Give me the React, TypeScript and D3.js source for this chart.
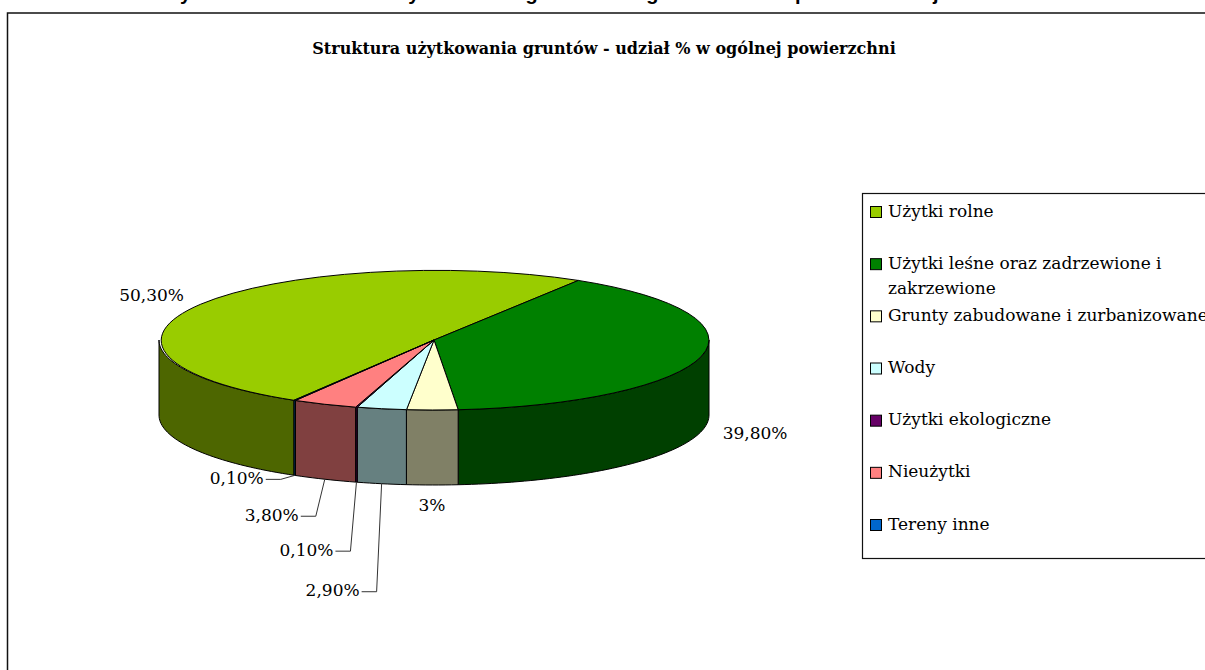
import React from 'react';
import * as d3 from 'd3';

// land use shares (%) in series order, clockwise from the first slice
const categories = [
  'Użytki rolne',
  'Użytki leśne oraz zadrzewione i zakrzewione',
  'Grunty zabudowane i zurbanizowane',
  'Wody',
  'Użytki ekologiczne',
  'Nieużytki',
  'Tereny inne',
];
const shares = [50.3, 39.8, 3, 2.9, 0.1, 3.8, 0.1];
const valueLabels = ['50,30%', '39,80%', '3%', '2,90%', '0,10%', '3,80%', '0,10%'];
const topColors = ['#99cc00', '#008000', '#ffffcc', '#ccffff', '#660066', '#ff8080', '#0066cc'];
const sideColors = ['#4d6600', '#004000', '#808066', '#668080', '#330033', '#804040', '#003366'];

const chartTitle = 'Struktura użytkowania gruntów - udział % w ogólnej powierzchni';
const pageTitle = 'Wykres 3. Struktura użytkowania gruntów w gminie na tle powiatu i województwa';

const W = 1205;
const H = 670;
const cx = 434;
const cy = 340;
const rx = 275;
const ry = 70;
const depth = 75;
const firstAngle = (210.6 * Math.PI) / 180;

// label placement: outside labels or leader-line labels (drop, elbow shift)
const labelLayout = [
  { kind: 'out', k: 1.2, dy: 0 },
  { kind: 'out', k: 1.2, dy: 0 },
  { kind: 'out', k: 1.2, dy: 8 },
  { kind: 'leader', drop: 108, shift: -5 },
  { kind: 'leader', drop: 69, shift: -6 },
  { kind: 'leader', drop: 37, shift: -9 },
  { kind: 'leader', drop: 4, shift: -14 },
];

const serif = '"DejaVu Serif", serif';

const px = (a: number, k = 1) => cx + rx * k * Math.sin(a);
const py = (a: number, k = 1) => cy - ry * k * Math.cos(a);

function wrap(name: string): string[] {
  if (name.length <= 36) return [name];
  const cut = name.lastIndexOf(' ', 31);
  return [name.slice(0, cut), name.slice(cut + 1)];
}

export default function App() {
  const pie = d3
    .pie<number>()
    .sort(null)
    .value((d) => d)
    .startAngle(firstAngle)
    .endAngle(firstAngle + 2 * Math.PI);
  const slices = pie(shares);

  const arc = d3.arc<d3.PieArcDatum<number>>().innerRadius(0).outerRadius(1);

  const line = d3
    .line<[number, number]>()
    .x((d) => d[0])
    .y((d) => d[1]);

  // visible outer walls: the front half of the ellipse
  const sides: { i: number; d: string }[] = [];
  slices.forEach((s, i) => {
    [0, 2 * Math.PI, 4 * Math.PI].forEach((off) => {
      const lo = Math.max(s.startAngle, Math.PI / 2 + off);
      const hi = Math.min(s.endAngle, (3 * Math.PI) / 2 + off);
      if (hi <= lo) return;
      const n = Math.max(2, Math.ceil((hi - lo) * 40));
      const angles = d3.range(n + 1).map((j) => lo + ((hi - lo) * j) / n);
      const top = angles.map((a) => [px(a), py(a)] as [number, number]);
      const bottom = angles
        .slice()
        .reverse()
        .map((a) => [px(a), py(a) + depth] as [number, number]);
      sides.push({ i, d: line([...top, ...bottom])! + 'Z' });
    });
  });

  const legendY = d3
    .scalePoint<string>()
    .domain(categories)
    .range([212, 525]);

  return (
    <svg
      width={W}
      height={H}
      style={{ position: 'absolute', left: 0, top: 0, background: '#fff' }}
    >
      <text
        x={160}
        y={0}
        textLength={885}
        lengthAdjust="spacing"
        fontFamily='"Liberation Sans", Arial, sans-serif'
        fontWeight="bold"
        fontSize={20}
        fill="#000"
      >
        {pageTitle}
      </text>

      <rect x={7.5} y={13} width={1300} height={700} fill="#fff" stroke="#111" strokeWidth={1.5} />

      <text
        x={604}
        y={54}
        textAnchor="middle"
        fontFamily={serif}
        fontWeight="bold"
        fontSize={16}
        fill="#000"
      >
        {chartTitle}
      </text>

      <g>
        {sides.map((s, k) => (
          <path key={k} d={s.d} fill={sideColors[s.i]} stroke="#000" strokeWidth={1} strokeLinejoin="round" />
        ))}
        {slices.map((s, i) => (
          <path
            key={i}
            d={arc(s)!}
            transform={`translate(${cx},${cy}) scale(${rx},${ry})`}
            fill={topColors[i]}
            stroke="#000"
            strokeWidth={1}
            vectorEffect="non-scaling-stroke"
          />
        ))}
      </g>

      <g fontFamily={serif} fontSize={17} fill="#000">
        {slices.map((s, i) => {
          const m = (s.startAngle + s.endAngle) / 2;
          const lay = labelLayout[i];
          if (lay.kind === 'out') {
            const front = Math.cos(m) < 0;
            const x = px(m, lay.k!);
            const y = py(m, lay.k!) + (front ? depth : 0) + lay.dy!;
            return (
              <text key={i} x={x} y={y} textAnchor="middle" dominantBaseline="middle">
                {valueLabels[i]}
              </text>
            );
          }
          const ax = px(m);
          const ay = py(m) + depth;
          const ex = ax + lay.shift!;
          const ey = ay + lay.drop!;
          const pts: [number, number][] = [
            [ax, ay],
            [ex, ey],
            [ex - 15, ey],
          ];
          return (
            <g key={i}>
              <path d={line(pts)!} fill="none" stroke="#333" strokeWidth={1} />
              <text x={ex - 17} y={ey} textAnchor="end" dominantBaseline="middle">
                {valueLabels[i]}
              </text>
            </g>
          );
        })}
      </g>

      <rect x={862.5} y={193.5} width={400} height={365} fill="#fff" stroke="#111" strokeWidth={1.2} />
      <g fontFamily={serif} fontSize={17} fill="#000">
        {categories.map((c, i) => {
          const y = legendY(c)!;
          return (
            <g key={c}>
              <rect x={870.5} y={y - 5.5} width={11} height={11} fill={topColors[i]} stroke="#000" strokeWidth={1} />
              {wrap(c).map((ln, j) => (
                <text key={j} x={888} y={y + j * 25} dominantBaseline="middle">
                  {ln}
                </text>
              ))}
            </g>
          );
        })}
      </g>
    </svg>
  );
}
